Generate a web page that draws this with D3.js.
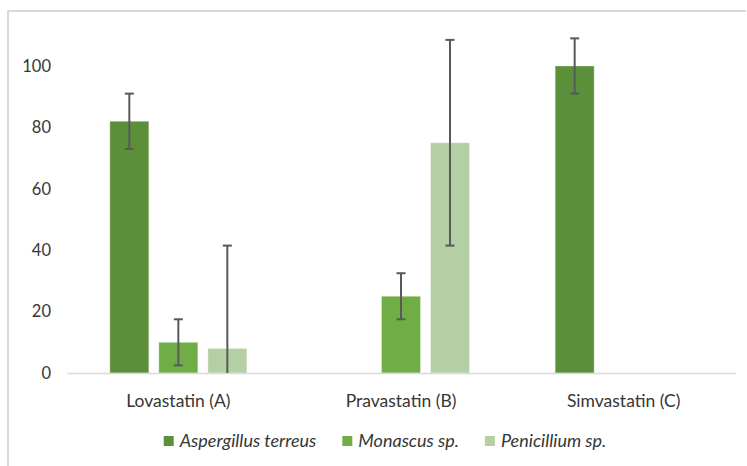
<!DOCTYPE html>
<html>
<head>
<meta charset="utf-8">
<script src="https://cdn.jsdelivr.net/npm/d3@7"></script>
<style>
  html, body { margin: 0; padding: 0; background: #fff; }
  svg { display: block; }
  text { font-family: Lato, "Open Sans", sans-serif; }
</style>
</head>
<body>
<svg id="chart" width="747" height="466"></svg>
<script>
// Statin production by fungal source
const categories = ["Lovastatin (A)", "Pravastatin (B)", "Simvastatin (C)"];
const seriesNames = ["Aspergillus terreus", "Monascus sp.", "Penicillium sp."];
const aspergillusValues = [82, 0, 100];
const monascusValues = [10, 25, 0];
const penicilliumValues = [8, 75, 0];
const aspergillusErrors = [9, 0, 9];
const monascusErrors = [7.5, 7.5, 0];
const penicilliumErrors = [33.5, 33.5, 0];
const yTicks = [0, 20, 40, 60, 80, 100];

const seriesValues = [aspergillusValues, monascusValues, penicilliumValues];
const seriesErrors = [aspergillusErrors, monascusErrors, penicilliumErrors];
const colors = ["#5b8f3a", "#70ad47", "#b5cfa5"];
const textColor = "#363636";

const svg = d3.select("#chart");

// outer frame (top and left edges only)
svg.append("path")
  .attr("d", "M8,466V11H746")
  .attr("fill", "none")
  .attr("stroke", "#d9d9d9")
  .attr("stroke-width", 2);

const plotLeft = 67, plotRight = 735, plotBottom = 373;

const x0 = d3.scaleBand()
  .domain(categories)
  .range([plotLeft, plotRight])
  .paddingInner(0.3847)
  .paddingOuter(0.19235);

const x1 = d3.scaleBand()
  .domain(seriesNames)
  .range([0, x0.bandwidth()])
  .paddingInner(0.204)
  .paddingOuter(0);

const y = d3.scaleLinear().domain([0, 100]).range([plotBottom, 66]);

const color = d3.scaleOrdinal().domain(seriesNames).range(colors);

// y axis labels
const yAxis = svg.append("g")
  .attr("transform", `translate(${plotLeft},0)`)
  .call(d3.axisLeft(y).tickValues(yTicks).tickSize(0).tickPadding(16).tickFormat(d3.format("d")));
yAxis.select(".domain").remove();
yAxis.selectAll("text")
  .attr("fill", textColor)
  .style("font-size", "16.5px")
  .style("font-family", "Lato, 'Open Sans', sans-serif");

// data rows
const rows = [];
categories.forEach((c, ci) => {
  seriesNames.forEach((s, si) => {
    rows.push({ category: c, series: s, value: seriesValues[si][ci], error: seriesErrors[si][ci] });
  });
});

// bars
svg.append("g").selectAll("rect")
  .data(rows.filter(d => d.value > 0))
  .join("rect")
  .attr("x", d => x0(d.category) + x1(d.series))
  .attr("y", d => y(d.value))
  .attr("width", x1.bandwidth())
  .attr("height", d => y(0) - y(d.value))
  .attr("fill", d => color(d.series))
  .attr("stroke", "#ffffff")
  .attr("stroke-opacity", 0.35)
  .attr("stroke-width", 1);

// x axis baseline and category labels
const xAxis = svg.append("g")
  .attr("transform", `translate(0,${plotBottom})`)
  .call(d3.axisBottom(x0).tickSize(0).tickSizeOuter(0).tickPadding(22));
xAxis.select(".domain")
  .attr("stroke", "#d9d9d9")
  .attr("stroke-width", 1.5);
xAxis.selectAll("text")
  .attr("fill", textColor)
  .style("font-size", "17.5px")
  .style("font-family", "Lato, 'Open Sans', sans-serif");

// error bars (clipped at the zero line)
const errG = svg.append("g")
  .attr("stroke", "#595959")
  .attr("stroke-width", 2)
  .attr("fill", "none");
const capHalf = 4.5;
rows.filter(d => d.value > 0 && d.error > 0).forEach(d => {
  const cx = x0(d.category) + x1(d.series) + x1.bandwidth() / 2;
  const hi = d.value + d.error;
  const lo = d.value - d.error;
  const loClipped = Math.max(0, lo);
  errG.append("line")
    .attr("x1", cx).attr("x2", cx)
    .attr("y1", y(hi)).attr("y2", y(loClipped));
  errG.append("line")
    .attr("x1", cx - capHalf).attr("x2", cx + capHalf)
    .attr("y1", y(hi)).attr("y2", y(hi));
  if (lo >= 0) {
    errG.append("line")
      .attr("x1", cx - capHalf).attr("x2", cx + capHalf)
      .attr("y1", y(lo)).attr("y2", y(lo));
  }
});

// legend
const legend = svg.append("g");
const items = legend.selectAll("g")
  .data(seriesNames)
  .join("g");
items.append("rect")
  .attr("width", 10).attr("height", 10)
  .attr("y", 436)
  .attr("fill", d => color(d));
items.append("text")
  .attr("x", 16)
  .attr("y", 447)
  .attr("fill", textColor)
  .style("font-size", "18px")
  .style("font-style", "italic")
  .text(d => d);

const widths = [];
items.each(function () {
  widths.push(16 + d3.select(this).select("text").node().getComputedTextLength());
});
const gap = 26;
const total = d3.sum(widths) + gap * (widths.length - 1);
let cursor = 385 - total / 2;
items.each(function (d, i) {
  d3.select(this).attr("transform", `translate(${cursor},0)`);
  cursor += widths[i] + gap;
});
</script>
</body>
</html>
